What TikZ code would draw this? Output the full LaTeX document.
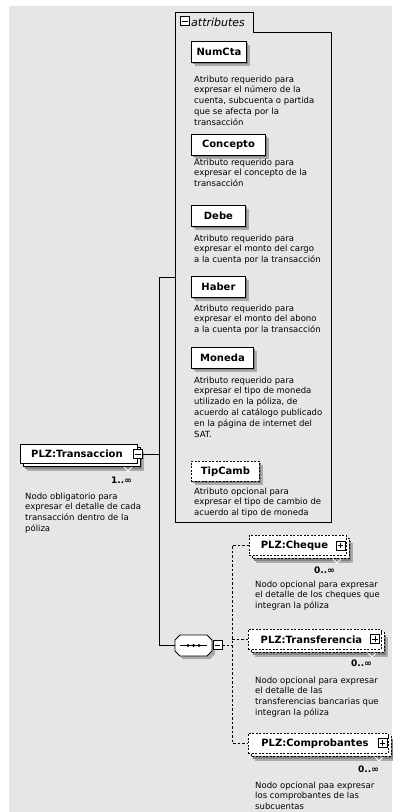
\documentclass[tikz,border=0pt]{standalone}
\usepackage{fontspec}
\setmainfont{DejaVu Sans}
\definecolor{bggray}{HTML}{E6E6E6}
\definecolor{shadowgray}{HTML}{ABABAB}
\definecolor{shadowdark}{HTML}{858585}
\newcommand\xlbl{\bfseries\fontsize{10}{12}\selectfont}
\newcommand\xdsc{\fontsize{8.5}{10.8}\selectfont}
\newcommand\xmlt{\bfseries\fontsize{9}{10}\selectfont}
\newcommand\xtab{\itshape\fontsize{11}{13}\selectfont}
\tikzset{
  elbox/.style={draw=black, fill=white, line width=0.9pt, inner sep=0pt, font=\xlbl, anchor=north west},
  optbox/.style={elbox, dash pattern=on 2pt off 1.5pt},
  desc/.style={font=\xdsc, align=left, anchor=north west, inner sep=0pt},
  conn/.style={draw=black, line width=0.9pt},
  optconn/.style={draw=black, line width=0.9pt, dash pattern=on 2.5pt off 2pt},
  toggle/.style={draw=black, fill=white, line width=0.7pt, minimum size=9pt, inner sep=0pt},
  mult/.style={font=\xmlt, anchor=east, inner sep=0pt},
}
% attribute element: name, x, y, w, h, style, text
\newcommand\attrelem[7]{%
  \fill[shadowgray] (#2+4,#3+4) rectangle ++(#4,#5);
  \fill[shadowdark] (#2+2,#3+2) rectangle ++(#4,#5);
  \node[#6, minimum width=#4pt, minimum height=#5pt] (#1) at (#2,#3) {#7};
}
% repeated element: name, x, y, w, h, style, text
\newcommand\multielem[7]{%
  \fill[shadowgray] (#2+7,#3+8) rectangle ++(#4,#5);
  \fill[shadowdark] (#2+5,#3+6) rectangle ++(#4,#5);
  \draw[#6] (#2+3,#3+3) rectangle ++(#4,#5);
  \draw[white, line width=0.8pt] (#2+#4-13,#3+#5+4) -- ++(4,4) -- ++(4,-4);
  \node[#6, minimum width=#4pt, minimum height=#5pt] (#1) at (#2,#3) {#7};
}
% toggle: name, x, y, plus(1)/minus(0)
\newcommand\togglebox[4]{%
  \node[toggle] (#1) at (#2,#3) {};
  \draw[line width=0.7pt] ([xshift=2pt]#1.west) -- ([xshift=-2pt]#1.east);
  \ifnum#4=1 \draw[line width=0.7pt] ([yshift=-2pt]#1.north) -- ([yshift=2pt]#1.south);\fi
}
\begin{document}
\begin{tikzpicture}[x=1pt,y=-1pt]
\useasboundingbox (0,0) rectangle (392,812);
\fill[white] (0,0) rectangle (392,812);
\fill[bggray] (9,6) rectangle (392,812);

% attributes frame with tab
\draw[line width=0.9pt, fill=bggray] (175,12) -- (253,12) -- (253,32) -- (331,32) -- (331,522) -- (175,522) -- cycle;
\coordinate (attrW) at (175,277);
\togglebox{tabtog}{185}{21}{0}
\node[font=\xtab, anchor=west, inner sep=0pt] (tabtext) at (191,22) {attributes};

% attributes
\attrelem{numcta}{191}{41}{55}{21}{elbox}{NumCta}
\node[desc] (numctad) at (194,75.5) {Atributo requerido para\\expresar el número de la\\cuenta, subcuenta o partida\\que se afecta por la\\transacción};
\attrelem{concepto}{191}{134}{74}{21}{elbox}{Concepto}
\node[desc] (conceptod) at (194,158.5) {Atributo requerido para\\expresar el concepto de la\\transacción};
\attrelem{debe}{191}{205}{54}{21}{elbox}{Debe}
\node[desc] (debed) at (194,234.5) {Atributo requerido para\\expresar el monto del cargo\\a la cuenta por la transacción};
\attrelem{haber}{191}{276}{54}{21}{elbox}{Haber}
\node[desc] (haberd) at (194,304.5) {Atributo requerido para\\expresar el monto del abono\\a la cuenta por la transacción};
\attrelem{moneda}{191}{347}{62}{21}{elbox}{Moneda}
\node[desc] (monedad) at (194,376.5) {Atributo requerido para\\expresar el tipo de moneda\\utilizado en la póliza, de\\acuerdo al catálogo publicado\\en la página de internet del\\SAT.};
\attrelem{tipcamb}{191}{461}{68}{20}{optbox}{TipCamb}
\node[desc] (tipcambd) at (194,487.5) {Atributo opcional para\\expresar el tipo de cambio de\\acuerdo al tipo de moneda};

% main element
\multielem{trans}{20}{444}{117}{19}{elbox}{PLZ:Transaccion\hspace*{4pt}}
\togglebox{transtog}{138}{454}{0}
\node[mult] (transm) at (132,480) {1..∞};
\node[desc] (transd) at (25,492.5) {Nodo obligatorio para\\expresar el detalle de cada\\transacción dentro de la\\póliza};

% sequence compositor
\fill[shadowgray] (178,643) -- (183,638) -- (210,638) -- (215,643) -- (215,654) -- (210,659) -- (183,659) -- (178,654) -- cycle;
\draw[line width=0.9pt, fill=white] (175,640) -- (180,635) -- (207,635) -- (212,640) -- (212,651) -- (207,656) -- (180,656) -- (175,651) -- cycle;
\node[minimum width=37pt, minimum height=21pt, inner sep=0pt] (seq) at (193.5,645.5) {};
\draw[line width=0.6pt] (180,645.5) -- (207,645.5);
\foreach \dx in {188,193.5,199} \fill (\dx,645.5) circle (1.6pt);
\togglebox{seqtog}{217.5}{645}{0}

% child elements
\multielem{cheque}{249}{535}{97}{20}{optbox}{PLZ:Cheque\hspace*{7pt}}
\togglebox{chequetog}{340.5}{545.5}{1}
\node[mult] (chequem) at (335,570) {0..∞};
\node[desc] (chequed) at (255,580.5) {Nodo opcional para expresar\\el detalle de los cheques que\\integran la póliza};

\multielem{transf}{248}{629}{133}{20}{optbox}{PLZ:Transferencia\hspace*{7pt}}
\togglebox{transftog}{375}{639}{1}
\node[mult] (transfm) at (372,663) {0..∞};
\node[desc] (transfd) at (255,676.5) {Nodo opcional para expresar\\el detalle de las\\transferencias bancarias que\\integran la póliza};

\multielem{comprob}{248}{733}{140}{20}{optbox}{PLZ:Comprobantes\hspace*{7pt}}
\togglebox{comprobtog}{382.5}{743}{1}
\node[mult] (comprobm) at (379,769) {0..∞};
\node[desc] (comprobd) at (255,781.5) {Nodo opcional paa expresar\\los comprobantes de las\\subcuentas};

% connectors
\coordinate (spine) at (159,0);
\coordinate (ospine) at (232,0);
\draw[conn] (transtog.east) -- (transtog.east -| spine);
\draw[conn] (attrW) -- (attrW -| spine) |- (seq.west);
\draw[optconn] (seqtog.east) -- (seqtog.east -| ospine);
\draw[optconn] (cheque.west) -- (cheque.west -| ospine) |- (comprob.west);
\draw[optconn] (transf.west) -- (transf.west -| ospine);
\end{tikzpicture}
\end{document}
